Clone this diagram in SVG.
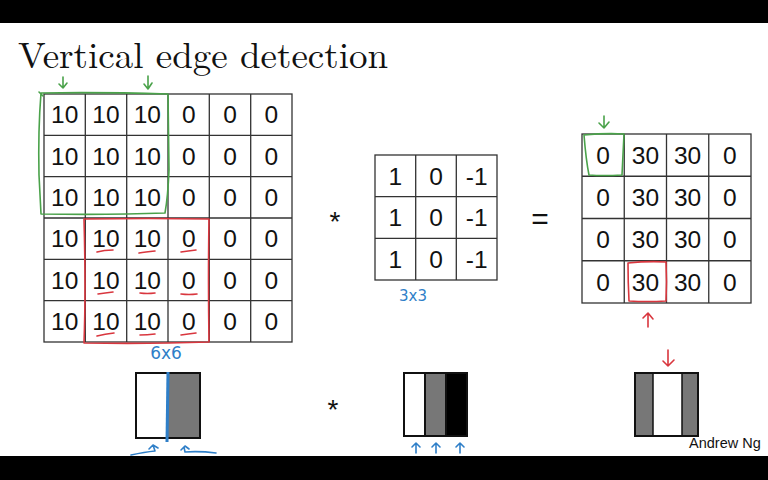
<svg xmlns="http://www.w3.org/2000/svg" width="768" height="480" viewBox="0 0 768 480">
<style>
.grid{fill:#fff;stroke:#333;stroke-width:1.3}
.num{font-family:"Liberation Sans",Arial,sans-serif;font-size:24.5px;fill:#111;text-anchor:middle}
.op{font-family:"Liberation Sans",Arial,sans-serif;fill:#111;text-anchor:middle}
.g{fill:none;stroke:#4aa24a;stroke-width:1.6;stroke-linecap:round;stroke-linejoin:round}
.r{fill:none;stroke:#d9363e;stroke-width:1.6;stroke-linecap:round;stroke-linejoin:round}
.b{fill:none;stroke:#2f7fc8;stroke-width:1.6;stroke-linecap:round;stroke-linejoin:round}
.hb{font-family:"Comic Sans MS","DejaVu Sans",sans-serif;fill:#2f7fc8;text-anchor:middle}
.img{stroke:#111;stroke-width:2}
</style>
<rect x="0" y="0" width="768" height="480" fill="#fff"/>
<rect x="0" y="0" width="768" height="23" fill="#000"/>
<rect x="0" y="456" width="768" height="24" fill="#000"/>
<text x="18" y="68" font-family="'Latin Modern Roman','Liberation Serif','Times New Roman',serif" font-size="37" fill="#111" textLength="370" lengthAdjust="spacingAndGlyphs">Vertical edge detection</text>

<g id="input-matrix">
<rect class="grid" x="44" y="94" width="248" height="248"/>
<path stroke="#333" stroke-width="1.3" d="M85.3 94V342M126.7 94V342M168 94V342M209.3 94V342M250.7 94V342M44 135.3H292M44 176.7H292M44 218H292M44 259.3H292M44 300.7H292"/>
<g class="num">
<text x="64.7" y="123.4">10</text><text x="106" y="123.4">10</text><text x="147.3" y="123.4">10</text><text x="188.7" y="123.4">0</text><text x="230" y="123.4">0</text><text x="271.3" y="123.4">0</text>
<text x="64.7" y="164.7">10</text><text x="106" y="164.7">10</text><text x="147.3" y="164.7">10</text><text x="188.7" y="164.7">0</text><text x="230" y="164.7">0</text><text x="271.3" y="164.7">0</text>
<text x="64.7" y="206">10</text><text x="106" y="206">10</text><text x="147.3" y="206">10</text><text x="188.7" y="206">0</text><text x="230" y="206">0</text><text x="271.3" y="206">0</text>
<text x="64.7" y="247.4">10</text><text x="106" y="247.4">10</text><text x="147.3" y="247.4">10</text><text x="188.7" y="247.4">0</text><text x="230" y="247.4">0</text><text x="271.3" y="247.4">0</text>
<text x="64.7" y="288.7">10</text><text x="106" y="288.7">10</text><text x="147.3" y="288.7">10</text><text x="188.7" y="288.7">0</text><text x="230" y="288.7">0</text><text x="271.3" y="288.7">0</text>
<text x="64.7" y="330">10</text><text x="106" y="330">10</text><text x="147.3" y="330">10</text><text x="188.7" y="330">0</text><text x="230" y="330">0</text><text x="271.3" y="330">0</text>
</g>
</g>

<g id="green-window">
<path class="g" d="M41 93 Q100 92 168 94 L169 170 Q168 196 165 213 Q110 215 41 214 L39 175 Q38 130 41 93 M39 92 L43 96"/>
<path class="g" d="M63 77 V88 M59 84 L63 88 L67 83"/>
<path class="g" d="M148 76 V89 M144 84 L148 89 L152 83"/>
</g>

<g id="red-window">
<path class="r" d="M84 219 Q150 218 209 219 Q208 280 209 342 Q150 344 84 343 Q86 290 84 219"/>
<path class="r" d="M97 252 Q104 250 113 250 M139 253 Q145 252 155 251 M181 252 Q188 251 196 250"/>
<path class="r" d="M98 294 Q105 293 113 292 M140 293 Q147 294 155 293 M181 294 Q189 295 197 294"/>
<path class="r" d="M97 336 Q105 334 114 333 M140 335 Q147 335 155 334 M181 335 Q188 334 196 333"/>
</g>
<text class="hb" x="166" y="359" font-size="17">6x6</text>

<text class="op" x="335" y="231" font-size="28">*</text>

<g id="filter">
<rect class="grid" x="375" y="155" width="122" height="125"/>
<path stroke="#333" stroke-width="1.3" d="M415.7 155V280M456.3 155V280M375 196.7H497M375 238.3H497"/>
<g class="num">
<text x="395.3" y="184.5">1</text><text x="436" y="184.5">0</text><text x="476.7" y="184.5">-1</text>
<text x="395.3" y="226.2">1</text><text x="436" y="226.2">0</text><text x="476.7" y="226.2">-1</text>
<text x="395.3" y="267.9">1</text><text x="436" y="267.9">0</text><text x="476.7" y="267.9">-1</text>
</g>
</g>
<text class="hb" x="413" y="301" font-size="15">3x3</text>

<text class="op" x="540" y="229" font-size="30">=</text>

<g id="output-matrix">
<rect class="grid" x="582" y="134" width="169" height="169"/>
<path stroke="#333" stroke-width="1.3" d="M624.25 134V303M666.5 134V303M708.75 134V303M582 176.25H751M582 218.5H751M582 260.75H751"/>
<g class="num">
<text x="603.1" y="163.8">0</text><text x="645.4" y="163.8">30</text><text x="687.6" y="163.8">30</text><text x="729.9" y="163.8">0</text>
<text x="603.1" y="206.1">0</text><text x="645.4" y="206.1">30</text><text x="687.6" y="206.1">30</text><text x="729.9" y="206.1">0</text>
<text x="603.1" y="248.3">0</text><text x="645.4" y="248.3">30</text><text x="687.6" y="248.3">30</text><text x="729.9" y="248.3">0</text>
<text x="603.1" y="290.6">0</text><text x="645.4" y="290.6">30</text><text x="687.6" y="290.6">30</text><text x="729.9" y="290.6">0</text>
</g>
</g>
<g id="output-marks">
<path class="g" d="M584 135 Q605 133 624 134 Q623 155 622 175 Q603 176 589 175 Q586 160 584 135"/>
<path class="g" d="M604 116 V128 M599 123 L604 128 L609 122"/>
<path class="r" d="M628 263 Q648 261 666 262 Q667 282 666 301 Q647 302 629 301 Q628 282 628 263"/>
<path class="r" d="M648 327 V313 M643 318 L648 313 L653 319"/>
<path class="r" d="M668 350 V366 M663 361 L668 366 L674 360"/>
</g>

<g id="image-input">
<rect x="136" y="373" width="32" height="65" fill="#fff"/>
<rect x="168" y="373" width="32" height="65" fill="#777"/>
<rect class="img" x="136" y="373" width="64" height="65" fill="none"/>
<path stroke="#2f7fc8" stroke-width="3" fill="none" d="M168 372 L167 442"/>
<path class="b" d="M131 455 Q145 452 155 451 L153 445 M149 449 L153 445 L158 448"/>
<path class="b" d="M184 447 L185 452 Q200 451 216 453 M181 450 L185 446 L189 449"/>
</g>

<text class="op" x="333" y="419" font-size="28">*</text>

<g id="image-filter">
<rect x="404" y="373" width="21" height="63" fill="#fff"/>
<rect x="425" y="373" width="21" height="63" fill="#777"/>
<rect x="446" y="373" width="21" height="63" fill="#000"/>
<rect class="img" x="404" y="373" width="63" height="63" fill="none"/>
<path stroke="#111" stroke-width="2" d="M425 373V436M446 373V436"/>
<path class="b" d="M416 453 V443 M412 447 L416 443 L420 447"/>
<path class="b" d="M436 453 V443 M432 447 L436 443 L440 447"/>
<path class="b" d="M460 453 V443 M456 447 L460 443 L464 447"/>
</g>

<g id="image-output">
<rect x="635" y="373" width="18" height="63" fill="#777"/>
<rect x="653" y="373" width="29" height="63" fill="#fff"/>
<rect x="682" y="373" width="16" height="63" fill="#777"/>
<rect class="img" x="635" y="373" width="63" height="63" fill="none"/>
<path stroke="#111" stroke-width="1.5" d="M653 373V436M682 373V436"/>
</g>

<text x="689" y="448" font-family="'Liberation Sans',Arial,sans-serif" font-size="14.5" fill="#111">Andrew Ng</text>
</svg>
